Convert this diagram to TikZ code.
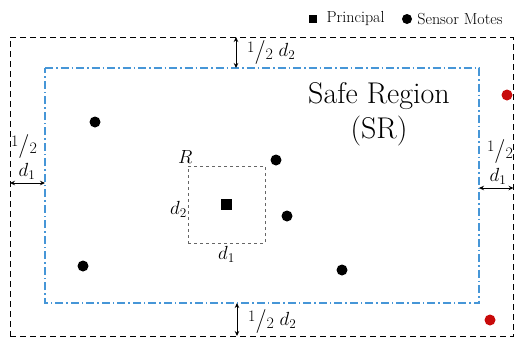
\RequirePackage{fix-cm}
\documentclass[tikz,border=0pt]{standalone}
\usepackage{tikz}
\usetikzlibrary{arrows.meta,positioning,calc}
\usepackage{amsmath}
\usepackage{amssymb}
\definecolor{srblue}{RGB}{70,150,215}
\definecolor{srred}{RGB}{200,10,10}
\newcommand{\halfsym}{{\fontsize{16}{16}\selectfont\raisebox{4.5pt}{1}\raisebox{-1.5pt}{\fontsize{24}{24}\selectfont/}\raisebox{-3pt}{2}}}
\tikzset{
  mote/.style={circle, fill=black, inner sep=0pt, minimum size=11pt},
  outmote/.style={mote, fill=srred},
  principal/.style={rectangle, fill=black, inner sep=0pt, minimum size=10.5pt},
  dimarrow/.style={{Stealth[length=5pt,width=4.5pt]}-{Stealth[length=5pt,width=4.5pt]}, line width=1pt},
  dimlabel/.style={inner sep=1pt, font=\fontsize{19}{21}\selectfont},
  legendtext/.style={inner sep=1pt, font=\fontsize{16}{18}\selectfont},
  safeline/.style={draw=srblue, dash pattern=on 8pt off 3pt on 1.5pt off 3pt, line width=1.2pt}
}
\begin{document}
\begin{tikzpicture}[x=1pt, y=-1pt]
          \useasboundingbox (0,0) rectangle (515,338);
          % regions
          \node[draw, dash pattern=on 6pt off 4pt, line width=0.9pt, minimum width=503.5pt, minimum height=299pt, inner sep=0pt, outer sep=0pt] (outer) at (261.75,186.5) {};
          \node[minimum width=434pt, minimum height=235pt, inner sep=0pt, outer sep=0pt] (safe) at (262,185.5) {};
          \draw[safeline] (safe.north west) -- (safe.north east) -- (safe.south east) -- (safe.south west) -- cycle;
          \node[font=\fontsize{30}{35}\selectfont, align=center] (srtext) at (379,114) {Safe Region\\(SR)};

          % R box with principal
          \node[draw=black!60, dashed, line width=0.8pt, minimum size=77pt, inner sep=0pt, outer sep=0pt] (rbox) at (226.5,204.5) {};
          \node[principal] (prin) at (rbox.center) {};
          \node[dimlabel, anchor=south west] (rlabel) at ([xshift=-11pt, yshift=1pt]rbox.north west) {$R$};
          \node[dimlabel, left=0pt of rbox, yshift=-5pt] (rd2) {$d_2$};
          \node[dimlabel, below=2pt of rbox] (rd1) {$d_1$};

          % motes
          \node[mote] (m1) at (95,122) {};
          \node[mote] (m2) at (276,160) {};
          \node[mote] (m3) at (287,216) {};
          \node[mote] (m4) at (83,266) {};
          \node[mote] (m5) at (342,270) {};
          \node[outmote] (o1) at (507,95) {};
          \node[outmote] (o2) at (490,320) {};

          % legend
          \node[principal, minimum size=8.5pt] (legsq) at (313,19) {};
          \node[legendtext, right=8pt of legsq] (legp) {Principal};
          \node[mote, minimum size=10pt] (legdot) at (407,19) {};
          \node[legendtext, right=4pt of legdot] (legm) {Sensor Motes};

          % margins
          \coordinate (topx) at (236,0);
          \coordinate (botx) at (237,0);
          \coordinate (lefty) at (0,183);
          \coordinate (righty) at (0,188);
          \draw[dimarrow] (topx |- outer.north) -- (topx |- safe.north);
          \draw[dimarrow] (botx |- safe.south) -- (botx |- outer.south);
          \draw[dimarrow] (outer.west |- lefty) -- (safe.west |- lefty);
          \draw[dimarrow] (safe.east |- righty) -- (outer.east |- righty);
          \node[dimlabel, anchor=west] (topl) at (246,52) {\halfsym\ $d_2$};
          \node[dimlabel, anchor=west] (botl) at (247,321) {\halfsym\ $d_2$};
          \node[dimlabel] (lefth) at (24,146) {\halfsym};
          \node[dimlabel] (leftd) at (27,171) {$d_1$};
          \node[dimlabel] (righth) at (500,151) {\halfsym};
          \node[dimlabel] (rightd) at (498,176) {$d_1$};
\end{tikzpicture}
\end{document}
